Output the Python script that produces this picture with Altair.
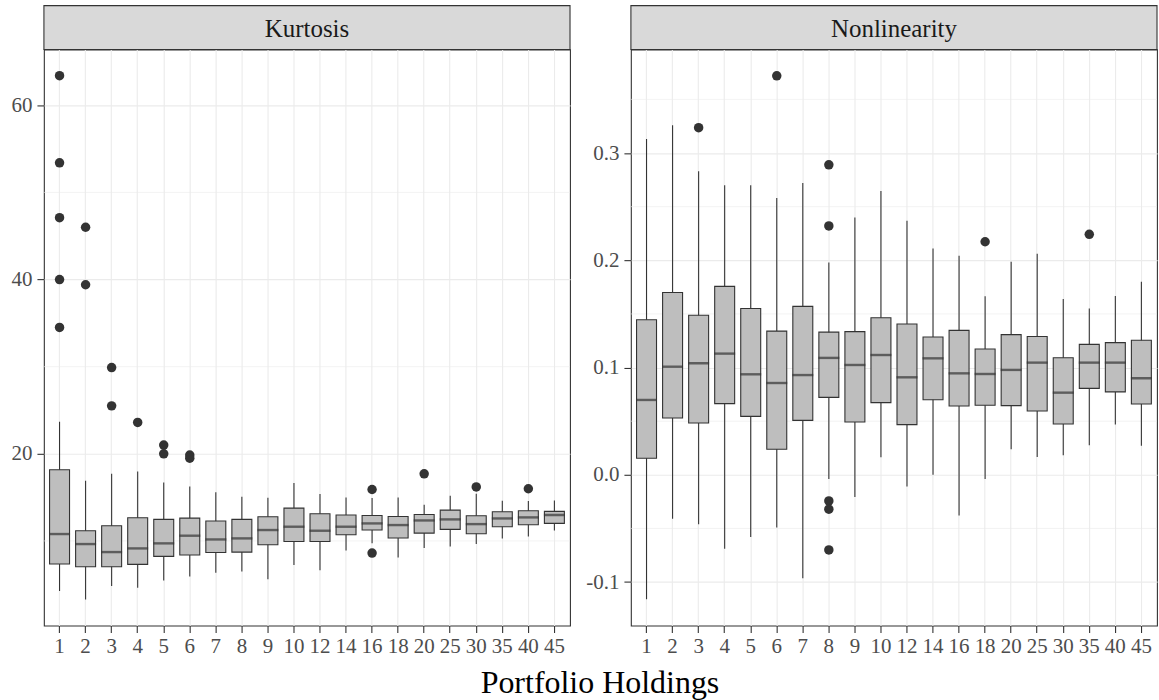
import altair as alt
import pandas as pd

holdings = ["1", "2", "3", "4", "5", "6", "7", "8", "9", "10", "12", "14",
            "16", "18", "20", "25", "30", "35", "40", "45"]

# Kurtosis box statistics
k_lower = [4.25, 3.29, 4.83, 4.63, 5.47, 5.93, 6.35, 6.50, 5.59, 7.24, 6.62, 8.91,
           9.72, 8.11, 9.18, 9.37, 9.64, 10.29, 10.52, 11.20]
k_q1 = [7.35, 7.04, 7.04, 7.31, 8.23, 8.38, 8.68, 8.72, 9.56, 9.94, 9.94, 10.71,
        11.25, 10.33, 10.90, 11.32, 10.83, 11.63, 11.86, 12.01]
k_med = [10.79, 9.64, 8.72, 9.14, 9.72, 10.60, 10.17, 10.29, 11.25, 11.63, 11.17, 11.63,
         12.01, 11.82, 12.35, 12.47, 11.93, 12.58, 12.70, 12.97]
k_q3 = [18.17, 11.17, 11.74, 12.66, 12.47, 12.62, 12.28, 12.47, 12.78, 13.77, 13.12, 12.97,
        12.92, 12.81, 13.04, 13.54, 12.89, 13.35, 13.46, 13.39]
k_upper = [23.67, 16.90, 17.70, 17.97, 16.70, 16.25, 15.60, 15.07, 14.95, 16.64, 15.38, 14.99,
           14.92, 14.99, 14.15, 15.18, 15.40, 14.61, 14.57, 14.65]
k_out_cat = ["1", "1", "1", "1", "1", "2", "2", "3", "3", "4", "5", "5", "6", "6",
             "16", "16", "20", "30", "40"]
k_out_val = [63.4, 53.4, 47.1, 40.0, 34.5, 46.0, 39.4, 29.9, 25.5, 23.6, 21.0, 20.0, 19.85, 19.5,
             15.9, 8.61, 17.7, 16.2, 15.99]

# Nonlinearity box statistics
n_lower = [-0.116, -0.041, -0.046, -0.069, -0.058, -0.049, -0.0964, -0.004, -0.0206, 0.0163,
           -0.011, 0.000, -0.038, -0.004, 0.0238, 0.0167, 0.0182, 0.0275, 0.0468, 0.027]
n_q1 = [0.0154, 0.053, 0.0483, 0.0664, 0.0545, 0.0238, 0.0508, 0.0722, 0.0493, 0.0673,
        0.0468, 0.070, 0.0642, 0.0648, 0.0645, 0.0595, 0.0474, 0.0806, 0.0773, 0.066]
n_med = [0.0698, 0.1008, 0.104, 0.113, 0.0937, 0.0856, 0.093, 0.109, 0.1024, 0.1117,
         0.0909, 0.1086, 0.0946, 0.094, 0.0978, 0.1046, 0.0766, 0.1046, 0.1046, 0.090]
n_q3 = [0.1446, 0.170, 0.1487, 0.1757, 0.155, 0.134, 0.157, 0.133, 0.1335, 0.1465,
        0.1406, 0.1285, 0.1347, 0.1173, 0.1307, 0.129, 0.1092, 0.1216, 0.1232, 0.1254]
n_upper = [0.313, 0.326, 0.283, 0.270, 0.270, 0.258, 0.272, 0.198, 0.240, 0.2646,
           0.2369, 0.211, 0.2043, 0.1664, 0.1987, 0.206, 0.1639, 0.155, 0.1667, 0.180]
n_out_cat = ["3", "6", "8", "8", "8", "8", "8", "18", "35"]
n_out_val = [0.3236, 0.372, 0.289, 0.232, -0.0243, -0.032, -0.070, 0.2173, 0.2242]

k_major = [20, 40, 60]
k_minor = [10, 30, 50]
n_major = [-0.1, 0.0, 0.1, 0.2, 0.3]
n_minor = [-0.05, 0.05, 0.15, 0.25, 0.35]

FONT = "Liberation Serif"
W, H = 527, 577
BOX_W = 20
EDGE = "#333333"


def panel(title, lower, q1, med, q3, upper, out_cat, out_val, domain, major, minor,
          label_expr, show_xtitle=False):
    boxes = pd.DataFrame({"h": holdings, "lower": lower, "q1": q1, "med": med,
                          "q3": q3, "upper": upper})
    outs = pd.DataFrame({"h": out_cat, "v": out_val})
    minor_df = pd.DataFrame({"g": minor})
    strip_df = pd.DataFrame({"t": [title]})

    xenc = alt.X("h:N", sort=holdings, title=None,
                 scale=alt.Scale(paddingInner=0, paddingOuter=0.1),
                 axis=alt.Axis(labelAngle=0, bandPosition=0.5, grid=True, domain=False,
                               tickSize=7, tickColor=EDGE, tickWidth=1.1,
                               labelFontSize=21, labelColor="#4D4D4D", labelPadding=3,
                               labelFont=FONT))
    yscale = alt.Scale(domain=domain, nice=False, zero=False)
    yaxis = alt.Axis(values=major, grid=True, domain=False, title=None,
                     tickSize=7, tickColor=EDGE, tickWidth=1.1, labelFontSize=21,
                     labelColor="#4D4D4D", labelPadding=5, labelFont=FONT,
                     labelExpr=label_expr)

    grid_minor = alt.Chart(minor_df).mark_rule(color="#EBEBEB", strokeWidth=0.6).encode(
        y=alt.Y("g:Q", scale=yscale, axis=yaxis)
    )
    base = alt.Chart(boxes)
    whisk = base.mark_rule(color=EDGE, strokeWidth=1.1).encode(
        x=xenc, y=alt.Y("lower:Q", scale=yscale, axis=yaxis), y2="upper:Q"
    )
    box = base.mark_bar(size=BOX_W, fill="#BEBEBE", stroke=EDGE, strokeWidth=1.1).encode(
        x=xenc, y=alt.Y("q1:Q", scale=yscale, axis=yaxis), y2="q3:Q"
    )
    medl = base.mark_tick(size=BOX_W + 1, thickness=2.4, color=EDGE, orient="horizontal").encode(
        x=xenc, y=alt.Y("med:Q", scale=yscale, axis=yaxis)
    )
    pts = alt.Chart(outs).mark_circle(size=90, color=EDGE, opacity=1).encode(
        x=alt.X("h:N", sort=holdings, title=None), y=alt.Y("v:Q", scale=yscale, axis=yaxis)
    )
    strip = alt.Chart(strip_df).mark_rect(fill="#D9D9D9", stroke=EDGE, strokeWidth=1.1).encode(
        x=alt.value(0), x2=alt.value(W), y=alt.value(-44), y2=alt.value(0)
    )
    strip_txt = alt.Chart(strip_df).mark_text(font=FONT, fontSize=25, color="#1A1A1A",
                                              baseline="middle", align="center").encode(
        x=alt.value(W / 2), y=alt.value(-21), text="t:N"
    )
    layers = [grid_minor, whisk, box, medl, pts, strip, strip_txt]
    if show_xtitle:
        xt = alt.Chart(strip_df).mark_text(font=FONT, fontSize=32, color="#000000",
                                           baseline="alphabetic", align="center").encode(
            x=alt.value(557), y=alt.value(H + 68), text=alt.value("Portfolio Holdings")
        )
        layers.append(xt)
    return alt.layer(*layers).properties(width=W, height=H)


left = panel("Kurtosis", k_lower, k_q1, k_med, k_q3, k_upper, k_out_cat, k_out_val,
             [0.29, 66.4], k_major, k_minor, "format(datum.value, 'd')", show_xtitle=True)
right = panel("Nonlinearity", n_lower, n_q1, n_med, n_q3, n_upper, n_out_cat, n_out_val,
              [-0.1405, 0.3965], n_major, n_minor,
              "datum.value < 0 ? '-' + format(-datum.value, '.1f') : format(datum.value, '.1f')")

chart = alt.hconcat(left, right, spacing=61, bounds="flush").resolve_scale(
    y="independent"
).properties(
    padding={"left": 10, "top": 3, "right": 0, "bottom": 0},
    background="white",
).configure_view(stroke=EDGE, strokeWidth=1.1).configure_axis(
    gridColor="#EBEBEB", gridWidth=1.1
)

chart.save("out.html", embed_options={"renderer": "svg", "actions": False})
